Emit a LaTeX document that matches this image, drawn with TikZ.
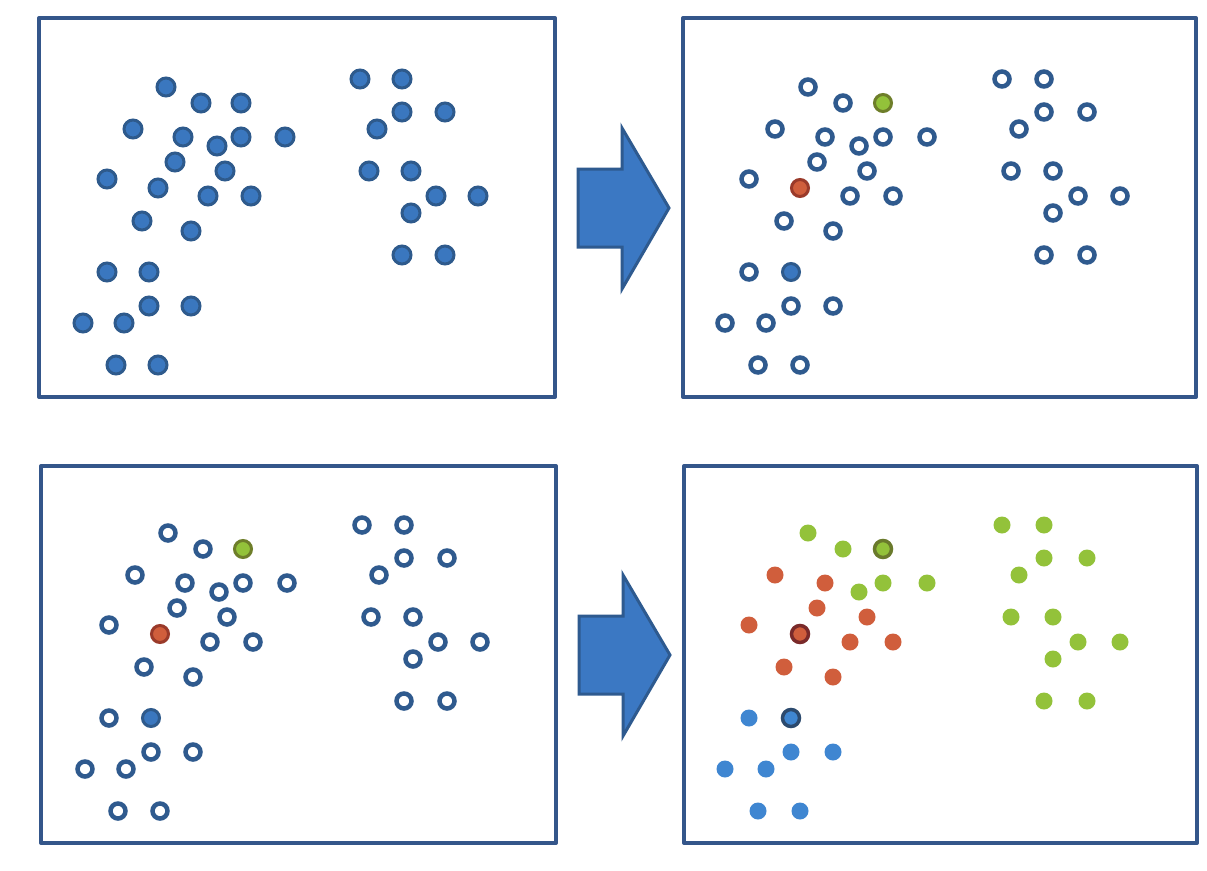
\documentclass[tikz,border=0pt]{standalone}
\begin{document}
\begin{tikzpicture}[x=1pt,y=-1pt,
  panel/.style={draw=boxcol,line width=4pt,line join=round},
  bigarrow/.style={draw=arrowline,fill=arrowfill,line width=3pt,line join=miter},
  solid dot/.style={circle,inner sep=0pt,minimum size=18pt,fill=dotfill,draw=dotline,line width=3pt},
  open dot/.style={circle,inner sep=0pt,minimum size=15pt,fill=white,draw=ringcol,line width=4.5pt},
  gseed/.style={circle,inner sep=0pt,minimum size=17pt,fill=gfill,draw=gline,line width=3pt},
  rseed/.style={circle,inner sep=0pt,minimum size=17pt,fill=rfill,draw=rline,line width=3pt},
  bseed/.style={circle,inner sep=0pt,minimum size=17pt,fill=dotfill,draw=dotline,line width=3pt},
  gdot/.style={circle,inner sep=0pt,minimum size=17pt,fill=gfill},
  rdot/.style={circle,inner sep=0pt,minimum size=17pt,fill=rfill},
  bdot/.style={circle,inner sep=0pt,minimum size=17pt,fill=bfill},
  gcen/.style={circle,inner sep=0pt,minimum size=17pt,fill=gfill,draw=gcline,line width=3.5pt},
  rcen/.style={circle,inner sep=0pt,minimum size=17pt,fill=rfill,draw=rcline,line width=3.5pt},
  bcen/.style={circle,inner sep=0pt,minimum size=17pt,fill=bfill,draw=bcline,line width=3.5pt}]
\definecolor{boxcol}{HTML}{34568A}
\definecolor{arrowfill}{HTML}{3B78C3}
\definecolor{arrowline}{HTML}{2E5A8F}
\definecolor{dotfill}{HTML}{3A77BF}
\definecolor{dotline}{HTML}{2E5A8C}
\definecolor{ringcol}{HTML}{2F5A8E}
\definecolor{gfill}{HTML}{93C23A}
\definecolor{gline}{HTML}{6E7E2A}
\definecolor{rfill}{HTML}{D05E3C}
\definecolor{rline}{HTML}{9A3A2A}
\definecolor{bfill}{HTML}{3F86D1}
\definecolor{gcline}{HTML}{6A7A2C}
\definecolor{rcline}{HTML}{7A2A2A}
\definecolor{bcline}{HTML}{2C4A6E}
\useasboundingbox (0,0) rectangle (1207,870);
\fill[white] (0,0) rectangle (1207,870);
% panels
\draw[panel] (39,18) rectangle (555,397);
\draw[panel] (683,18) rectangle (1196,397);
\draw[panel] (41,466) rectangle (556,843);
\draw[panel] (684,466) rectangle (1197,843);
% arrows
\draw[bigarrow] (578,169) -- (622,169) -- (622,128) -- (669,208) -- (622,289) -- (622,247) -- (578,247) -- cycle;
\draw[bigarrow] (579,616) -- (623,616) -- (623,575) -- (670,655) -- (623,736) -- (623,694) -- (579,694) -- cycle;
% cluster point lists (base coordinates of panel 1)
\def\gpts{166/87,201/103,241/137,285/137,217/146,360/79,402/79,402/112,445/112,377/129,369/171,411/171,436/196,478/196,411/213,402/255,445/255}
\def\rpts{133/129,183/137,175/162,225/171,107/179,208/196,251/196,142/221,191/231}
\def\bpts{107/272,149/306,191/306,83/323,124/323,116/365,158/365}
% panel 1: all solid
\foreach \px/\py [count=\i] in \gpts {\node[solid dot] (a-g\i) at (\px,\py) {};}
\foreach \px/\py [count=\i] in \rpts {\node[solid dot] (a-r\i) at (\px,\py) {};}
\foreach \px/\py [count=\i] in \bpts {\node[solid dot] (a-b\i) at (\px,\py) {};}
\node[solid dot] (a-gs) at (241,103) {};
\node[solid dot] (a-rs) at (158,188) {};
\node[solid dot] (a-bs) at (149,272) {};
% panel 2 and 3: open circles with seeds
\foreach \pn/\ox/\oy in {b/642/0,c/2/446}{
  \foreach \px/\py [count=\i] in \gpts {\node[open dot] (\pn-g\i) at (\px+\ox,\py+\oy) {};}
  \foreach \px/\py [count=\i] in \rpts {\node[open dot] (\pn-r\i) at (\px+\ox,\py+\oy) {};}
  \foreach \px/\py [count=\i] in \bpts {\node[open dot] (\pn-b\i) at (\px+\ox,\py+\oy) {};}
  \node[gseed] (\pn-gs) at (241+\ox,103+\oy) {};
  \node[rseed] (\pn-rs) at (158+\ox,188+\oy) {};
  \node[bseed] (\pn-bs) at (149+\ox,272+\oy) {};
}
% panel 4: clustered
\foreach \px/\py [count=\i] in \gpts {\node[gdot] (d-g\i) at (\px+642,\py+446) {};}
\foreach \px/\py [count=\i] in \rpts {\node[rdot] (d-r\i) at (\px+642,\py+446) {};}
\foreach \px/\py [count=\i] in \bpts {\node[bdot] (d-b\i) at (\px+642,\py+446) {};}
\node[gcen] (d-gs) at (241+642,103+446) {};
\node[rcen] (d-rs) at (158+642,188+446) {};
\node[bcen] (d-bs) at (149+642,272+446) {};
\end{tikzpicture}
\end{document}
